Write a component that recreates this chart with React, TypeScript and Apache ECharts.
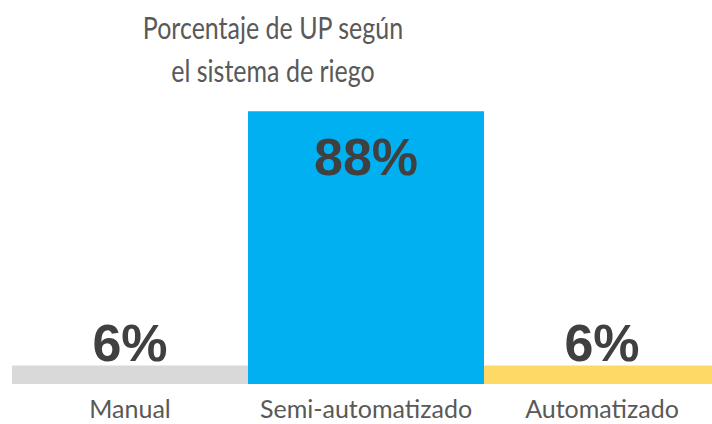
import React, { useEffect, useRef } from "react";
import * as echarts from "echarts";

const categories = ["Manual", "Semi-automatizado", "Automatizado"];
const values = [6, 88, 6];
const colors = ["#D9D9D9", "#00B0F0", "#FFD966"];
const titleLines = ["Porcentaje de UP según", "el sistema de riego"];

export default function App() {
  const ref = useRef<HTMLDivElement>(null);
  useEffect(() => {
    const chart = echarts.init(ref.current!, null, { renderer: "svg" });
    const titleStyle = {
      fontFamily: "Lato",
      fontSize: 25,
      fill: "#595959",
      textAlign: "center",
      textVerticalAlign: "middle",
    };
    chart.setOption({
      animation: false,
      graphic: [
        { type: "text", x: 273, y: 28, scaleY: 1.2, style: { ...titleStyle, text: titleLines[0] } },
        { type: "text", x: 273, y: 71, scaleY: 1.2, style: { ...titleStyle, text: titleLines[1] } },
      ],
      grid: {
        left: 12,
        width: 708,
        top: 74,
        bottom: 40,
        containLabel: false,
        outerBoundsMode: "none",
      },
      xAxis: {
        type: "category",
        data: categories,
        axisLine: { show: false },
        axisTick: { show: false },
        axisLabel: {
          interval: 0,
          hideOverlap: false,
          fontFamily: "Lato",
          fontSize: 25,
          lineHeight: 20,
          color: "#595959",
          margin: 14,
        },
      },
      yAxis: { type: "value", min: 0, max: 100, show: false, splitLine: { show: false } },
      series: [
        {
          type: "bar",
          barWidth: "100%",
          barCategoryGap: 0,
          data: values.map((v, i) => ({
            value: v,
            itemStyle: { color: colors[i] },
            label: {
              show: true,
              position: v > 50 ? "insideTop" : "top",
              distance: v > 50 ? 20 : -4,
              formatter: "{c}%",
              fontFamily: "Liberation Sans",
              fontWeight: "bold",
              fontSize: 52,
              color: "#404040",
            },
          })),
        },
      ],
    });
    return () => chart.dispose();
  }, []);
  return <div ref={ref} style={{ width: 712, height: 424, position: "absolute", left: 0, top: 0 }} />;
}
